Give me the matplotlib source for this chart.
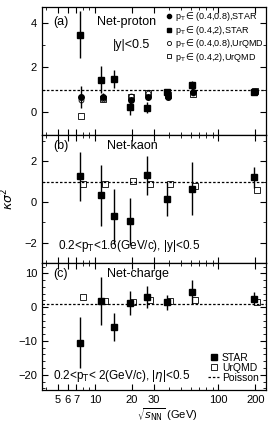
import matplotlib
matplotlib.use('Agg')
import matplotlib.pyplot as plt
import numpy as np
from matplotlib.ticker import FixedLocator, LogLocator, NullFormatter, AutoMinorLocator
from matplotlib.lines import Line2D

plt.rcParams['font.family'] = ['Liberation Sans', 'DejaVu Sans']

energy = [7.7, 11.5, 14.5, 19.6, 27, 39, 62.4, 200]

# net-proton, pT in (0.4,2)
p_sq = [3.45, 1.45, 1.5, 0.22, 0.2, 0.9, 1.2, 0.92]
p_sq_err = [1.05, 0.6, 0.4, 0.35, 0.25, 0.1, 0.2, 0.08]
p_sq_e = [7.7, 11.5, 14.5, 19.6, 27, 39, 62.4, 200]
# net-proton, pT in (0.4,0.8)
p_ci = [0.68, 0.7, 0.55, 0.68, 0.7, 0.9, 0.92]
p_ci_err = [0.5, 0.15, 0.1, 0.08, 0.06, 0.06, 0.05]
p_ci_e = [7.7, 11.5, 19.6, 27, 39, 62.4, 200]
# UrQMD
p_u_ci = [0.55, 0.6, 0.72, 0.85, 0.75, 0.85, 0.95]
p_u_sq = [-0.15, 0.6, 0.68, 0.85, 0.75, 0.8, 0.95]
p_u_e = [7.7, 11.5, 19.6, 27, 39, 62.4, 200]

# net-kaon
k_star = [1.25, 0.32, -0.7, -0.95, 1.3, 0.15, 0.65, 1.2]
k_star_err = [1.2, 1.5, 1.35, 1.15, 0.95, 0.85, 1.3, 0.5]
k_u = [0.9, 0.9, 1.02, 0.9, 0.9, 0.8, 0.6]
k_u_e = [7.7, 11.5, 19.6, 27, 39, 62.4, 200]

# net-charge
c_star = [-10.5, 1.8, -5.8, 1.2, 3.0, 1.5, 4.5, 2.5]
c_star_err = [7.5, 7.0, 4.2, 3.5, 3.2, 2.2, 3.5, 2.0]
c_u = [3.0, 1.8, 1.5, 2.2, 1.8, 2.2, 1.5]
c_u_e = [7.7, 11.5, 19.6, 27, 39, 62.4, 200]

xticks = [5, 6, 7, 10, 20, 30, 100, 200]

fig = plt.figure(figsize=(2.74, 4.30), dpi=100)
L, W = 0.153, 0.818
axa = fig.add_axes([L, 0.687, W, 0.297])
axb = fig.add_axes([L, 0.388, W, 0.299])
axc = fig.add_axes([L, 0.093, W, 0.295])

ms = 4
sh = 1.04  # small horizontal offset for open markers
elw = 1.0

def style(ax, ylim, labels=False):
    ax.set_xscale('log')
    ax.set_xlim(3.7, 245)
    ax.set_ylim(*ylim)
    ax.axhline(1, color='k', ls=(0, (2, 1.5)), lw=0.9, zorder=0)
    ax.xaxis.set_major_locator(FixedLocator(xticks))
    ax.xaxis.set_minor_locator(LogLocator(base=10, subs=np.arange(1, 10)))
    ax.yaxis.set_minor_locator(AutoMinorLocator(2))
    ax.tick_params(which='both', direction='in', top=True, right=True, labelsize=8)
    ax.tick_params(which='major', length=4, width=0.8)
    ax.tick_params(which='minor', length=2, width=0.6)
    if labels:
        ax.set_xticklabels([str(t) for t in xticks])
    else:
        ax.xaxis.set_major_formatter(NullFormatter())
    ax.xaxis.set_minor_formatter(NullFormatter())
    for s in ax.spines.values():
        s.set_linewidth(0.9)

# (a)
style(axa, (-1.0, 4.7))
axa.errorbar(np.array(p_sq_e) * 0.98, p_sq, yerr=p_sq_err, fmt='s', color='k', ms=ms, elinewidth=elw, capsize=0)
axa.errorbar(np.array(p_ci_e) * 1.0, p_ci, yerr=p_ci_err, fmt='o', color='k', ms=ms, elinewidth=elw, capsize=0)
axa.plot(np.array(p_u_e) * 1.0, p_u_ci, 'o', mfc='none', mec='k', ms=ms - 0.5, mew=0.6)
axa.plot(np.array(p_u_e) * 1.0, p_u_sq, 's', mfc='none', mec='k', ms=ms, mew=0.6)
axa.set_yticks([0, 2, 4])
axa.yaxis.set_minor_locator(FixedLocator(np.arange(-1, 5, 1)))
axa.text(0.05, 0.93, '(a)', transform=axa.transAxes, fontsize=9, va='top')
axa.text(0.245, 0.93, 'Net-proton', transform=axa.transAxes, fontsize=9, va='top')
axa.text(0.315, 0.75, '|y|<0.5', transform=axa.transAxes, fontsize=9, va='top')
ha = [Line2D([], [], marker='o', ls='', color='k', ms=3),
      Line2D([], [], marker='s', ls='', color='k', ms=3),
      Line2D([], [], marker='o', ls='', mfc='none', mec='k', ms=3, mew=0.6),
      Line2D([], [], marker='s', ls='', mfc='none', mec='k', ms=3.5, mew=0.6)]
la = [r'p$_{\rm T}$$\in$(0.4,0.8),STAR', r'p$_{\rm T}$$\in$(0.4,2),STAR',
      r'p$_{\rm T}$$\in$(0.4,0.8),UrQMD', r'p$_{\rm T}$$\in$(0.4,2),UrQMD']
axa.legend(ha, la, loc='upper right', bbox_to_anchor=(1.02, 1.03), frameon=False, fontsize=6.5,
           handlelength=0.6, handletextpad=0.3, labelspacing=0.05, borderpad=0.3)

# (b)
style(axb, (-3.0, 3.3))
axb.errorbar(np.array(energy) * 0.98, k_star, yerr=k_star_err, fmt='s', color='k', ms=ms, elinewidth=elw, capsize=0)
axb.plot(np.array(k_u_e) * sh, k_u, 's', mfc='none', mec='k', ms=ms, mew=0.6)
axb.set_yticks([-2, 0, 2])
axb.set_ylabel(r'$\kappa\sigma^2$', fontsize=9, labelpad=6)
axb.text(0.05, 0.96, '(b)', transform=axb.transAxes, fontsize=9, va='top')
axb.text(0.29, 0.96, 'Net-kaon', transform=axb.transAxes, fontsize=9, va='top')
axb.text(0.07, 0.07, r'0.2<p$_{\rm T}$<1.6(GeV/c), |y|<0.5', transform=axb.transAxes, fontsize=8.5, va='bottom')

# (c)
style(axc, (-24.5, 13), labels=True)
axc.errorbar(np.array(energy) * 0.98, c_star, yerr=c_star_err, fmt='s', color='k', ms=ms, elinewidth=elw, capsize=0)
axc.plot(np.array(c_u_e) * sh, c_u, 's', mfc='none', mec='k', ms=ms, mew=0.6)
axc.set_yticks([-20, -10, 0, 10])
axc.yaxis.set_minor_locator(AutoMinorLocator(5))
axc.text(0.05, 0.96, '(c)', transform=axc.transAxes, fontsize=9, va='top')
axc.text(0.29, 0.96, 'Net-charge', transform=axc.transAxes, fontsize=9, va='top')
axc.text(0.05, 0.05, r'0.2<p$_{\rm T}$< 2(GeV/c), |$\eta$|<0.5', transform=axc.transAxes, fontsize=8.5, va='bottom')
hc = [Line2D([], [], marker='s', ls='', color='k', ms=4),
      Line2D([], [], marker='s', ls='', mfc='none', mec='k', ms=4, mew=0.6),
      Line2D([], [], ls=(0, (2, 1.5)), color='k', lw=0.9)]
axc.legend(hc, ['STAR', 'UrQMD', 'Poisson'], loc='lower right', frameon=False, fontsize=7.5,
           handlelength=1.0, handletextpad=0.3, labelspacing=0.0, borderpad=0.2)
axc.set_xlabel(r'$\sqrt{s_{\rm NN}}$ (GeV)', fontsize=8, labelpad=3)
axc.xaxis.set_label_coords(0.56, -0.13)

fig.savefig('out.png', dpi=100)
